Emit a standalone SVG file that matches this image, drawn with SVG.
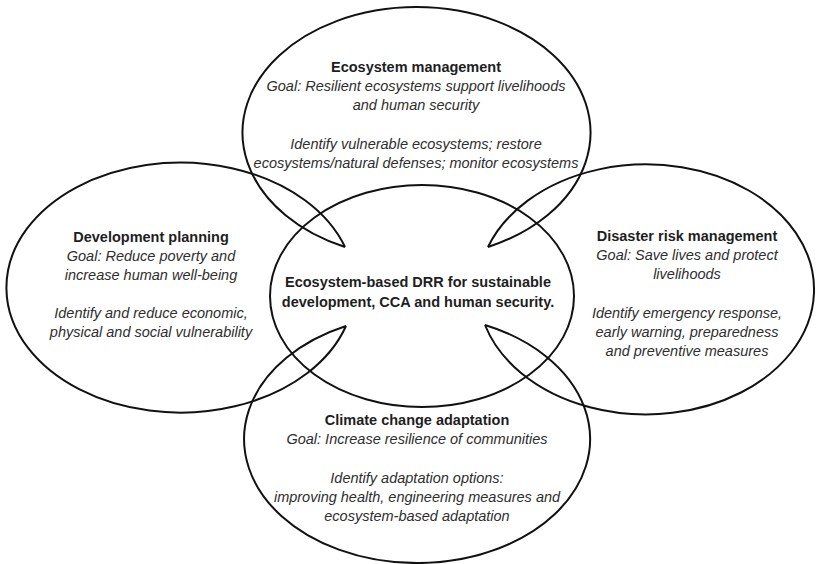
<svg xmlns="http://www.w3.org/2000/svg" width="817" height="564" viewBox="0 0 817 564">
<style>
.bg{fill:#ffffff}
.outline{fill:none;stroke:#111111;stroke-width:2}
text{font-family:"Liberation Sans",Arial,Helvetica,sans-serif;font-size:14.5px;text-anchor:middle}
.t{font-weight:bold;fill:#1e1e1e}
.i{font-style:italic;fill:#2e2e2e}
</style>
<rect class="bg" x="0" y="0" width="817" height="564"/>
<g id="ecosystem-management">
<path class="outline" d="M 345 247 A 174 125.5 0 1 1 488 247"/>
<text class="t" x="416" y="72">Ecosystem management</text>
<text class="i" x="416" y="91">Goal: Resilient ecosystems support livelihoods</text>
<text class="i" x="416" y="110">and human security</text>
<text class="i" x="416" y="149">Identify vulnerable ecosystems; restore</text>
<text class="i" x="416" y="168">ecosystems/natural defenses; monitor ecosystems</text>
</g>
<g id="development-planning">
<path class="outline" d="M 345 247 A 174 125 0 1 0 346 326"/>
<text class="t" x="151" y="242">Development planning</text>
<text class="i" x="151" y="261">Goal: Reduce poverty and</text>
<text class="i" x="151" y="280">increase human well-being</text>
<text class="i" x="151" y="318">Identify and reduce economic,</text>
<text class="i" x="151" y="337">physical and social vulnerability</text>
</g>
<g id="disaster-risk-management">
<path class="outline" d="M 488 247 A 168 125 0 1 1 485 325"/>
<text class="t" x="687" y="241">Disaster risk management</text>
<text class="i" x="687" y="260">Goal: Save lives and protect</text>
<text class="i" x="687" y="279">livelihoods</text>
<text class="i" x="687" y="318">Identify emergency response,</text>
<text class="i" x="687" y="337">early warning, preparedness</text>
<text class="i" x="687" y="356">and preventive measures</text>
</g>
<g id="climate-change-adaptation">
<path class="outline" d="M 346 326 A 173 124 0 1 0 485 325"/>
<text class="t" x="417" y="425">Climate change adaptation</text>
<text class="i" x="417" y="444">Goal: Increase resilience of communities</text>
<text class="i" x="417" y="483">Identify adaptation options:</text>
<text class="i" x="417" y="502">improving health, engineering measures and</text>
<text class="i" x="417" y="521">ecosystem-based adaptation</text>
</g>
<g id="ecosystem-based-drr">
<ellipse class="outline" cx="422" cy="296" rx="152" ry="111"/>
<text class="t" x="418" y="287">Ecosystem-based DRR for sustainable</text>
<text class="t" x="418" y="307">development, CCA and human security.</text>
</g>
</svg>
